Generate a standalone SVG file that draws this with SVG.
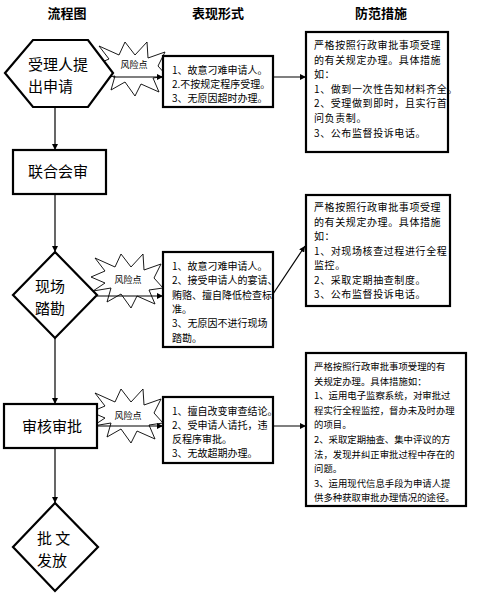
<svg xmlns="http://www.w3.org/2000/svg" width="481" height="597" viewBox="0 0 481 597">
<style>
.hd{font-family:"Noto Sans CJK SC",sans-serif;font-weight:bold;font-size:13px;fill:#000;text-anchor:middle}
.lb{font-family:"Noto Sans CJK SC",sans-serif;font-size:15px;fill:#000}
.sm{font-family:"Noto Sans CJK SC",sans-serif;font-size:10px;fill:#000}
.sm2{font-family:"Noto Sans CJK SC",sans-serif;font-size:9.4px;fill:#000}
.rk{font-family:"Noto Sans CJK SC",sans-serif;font-size:9px;fill:#000;text-anchor:middle}
.sh{fill:#fff;stroke:#000;stroke-width:2.2}
.bx{fill:#fff;stroke:#000;stroke-width:2.2}
.bs{fill:#fff;stroke:#000;stroke-width:0.9}
.cn{fill:none;stroke:#000;stroke-width:1.2}
</style>
<defs>
<marker id="ah" viewBox="0 0 10 10" refX="10" refY="5" markerWidth="6" markerHeight="6" markerUnits="userSpaceOnUse" orient="auto">
<path d="M0,0 L10,5 L0,10 z" fill="#000"/>
</marker>
<polygon id="burst" points="-36,-3 -22,-9 -32,-22 -12,-13 -6,-26 4,-13 16,-26 17,-10 34,-16 27,-2 36,8 22,10 28,24 10,16 4,28 -6,14 -20,22 -16,8 -34,11 -22,3"/>
</defs>
<rect width="481" height="597" fill="#fff"/>

<g id="headers">
<text class="hd" x="67" y="18">流程图</text>
<text class="hd" x="218" y="18">表现形式</text>
<text class="hd" x="381" y="18">防范措施</text>
</g>

<g id="risk1"><use href="#burst" class="bs" transform="translate(131,68)"/><text class="rk" x="134" y="68">风险点</text></g>
<g id="risk2"><use href="#burst" class="bs" transform="translate(127,280)"/><text class="rk" x="128" y="283">风险点</text></g>
<g id="risk3"><use href="#burst" class="bs" transform="translate(127,415)"/><text class="rk" x="128" y="419">风险点</text></g>

<g id="connectors">
<line class="cn" x1="113" y1="77" x2="163" y2="77" marker-end="url(#ah)"/>
<line class="cn" x1="273" y1="77" x2="306" y2="77" marker-end="url(#ah)"/>
<line class="cn" x1="55" y1="107" x2="55" y2="150" marker-end="url(#ah)"/>
<line class="cn" x1="55" y1="194" x2="55" y2="252" marker-end="url(#ah)"/>
<line class="cn" x1="97" y1="296" x2="163" y2="296" marker-end="url(#ah)"/>
<line class="cn" x1="273" y1="294" x2="305" y2="246" marker-end="url(#ah)"/>
<line class="cn" x1="55" y1="338" x2="55" y2="404" marker-end="url(#ah)"/>
<line class="cn" x1="97" y1="426" x2="163" y2="426" marker-end="url(#ah)"/>
<line class="cn" x1="273" y1="426" x2="306" y2="426" marker-end="url(#ah)"/>
<line class="cn" x1="55" y1="448" x2="55" y2="503" marker-end="url(#ah)"/>
</g>

<g id="n-apply">
<polygon class="sh" points="5,73 33,40 88,40 113,73 88,107 33,107"/>
<text class="lb"><tspan x="28" y="70">受理人提</tspan><tspan x="28" y="92">出申请</tspan></text>
</g>

<g id="n-joint">
<rect class="bx" x="13" y="150" width="93" height="44"/>
<text class="lb" x="28" y="177">联合会审</text>
</g>

<g id="n-site">
<polygon class="sh" points="55,252 97,295 55,338 13,295"/>
<text class="lb"><tspan x="35" y="292">现场</tspan><tspan x="35" y="314">踏勘</tspan></text>
</g>

<g id="n-approve">
<rect class="bx" x="4" y="404" width="93" height="44"/>
<text class="lb" x="22" y="432">审核审批</text>
</g>

<g id="n-issue">
<polygon class="sh" points="55,503 98,547 55,591 13,547"/>
<text class="lb"><tspan x="37" y="544">批 文</tspan><tspan x="37" y="566">发放</tspan></text>
</g>

<g id="r1">
<rect class="bx" x="163" y="56" width="110" height="51"/>
<text class="sm" x="172"><tspan x="172" y="74">1、故意刁难申请人。</tspan><tspan x="172" y="88">2.不按规定程序受理。</tspan><tspan x="172" y="102">3、无原因超时办理。</tspan></text>
</g>

<g id="m1">
<rect class="bx" x="306" y="32" width="142" height="120"/>
<text class="sm" x="314" style="letter-spacing:0.6px"><tspan x="314" y="49">严格按照行政审批事项受理</tspan><tspan x="314" y="63.6">的有关规定办理。具体措施</tspan><tspan x="314" y="78.2">如：</tspan><tspan x="314" y="92.8">1、做到一次性告知材料齐全。</tspan><tspan x="314" y="107.4">2、受理做到即时，且实行首</tspan><tspan x="314" y="122">问负责制。</tspan><tspan x="314" y="136.6">3、公布监督投诉电话。</tspan></text>
</g>

<g id="r2">
<rect class="bx" x="163" y="252" width="110" height="95"/>
<text class="sm" x="172"><tspan x="172" y="270">1、故意刁难申请人。</tspan><tspan x="172" y="284.3">2、接受申请人的宴请、</tspan><tspan x="172" y="298.6">贿赂、擅自降低检查标</tspan><tspan x="172" y="312.9">准。</tspan><tspan x="172" y="327.2">3、无原因不进行现场</tspan><tspan x="172" y="341.5">踏勘。</tspan></text>
</g>

<g id="m2">
<rect class="bx" x="306" y="195" width="144" height="111"/>
<text class="sm" x="314" style="letter-spacing:0.6px"><tspan x="314" y="211">严格按照行政审批事项受理</tspan><tspan x="314" y="225.5">的有关规定办理。具体措施</tspan><tspan x="314" y="240">如：</tspan><tspan x="314" y="254.5">1、对现场核查过程进行全程</tspan><tspan x="314" y="269">监控。</tspan><tspan x="314" y="283.5">2、采取定期抽查制度。</tspan><tspan x="314" y="298">3、公布监督投诉电话。</tspan></text>
</g>

<g id="r3">
<rect class="bx" x="163" y="397" width="110" height="66"/>
<text class="sm" x="172"><tspan x="172" y="415">1、擅自改变审查结论。</tspan><tspan x="172" y="429">2、受申请人请托，违</tspan><tspan x="172" y="443">反程序审批。</tspan><tspan x="172" y="457">3、无故超期办理。</tspan></text>
</g>

<g id="m3">
<rect class="bx" x="306" y="353" width="160" height="153"/>
<text class="sm2" x="314"><tspan x="314" y="370">严格按照行政审批事项受理的有</tspan><tspan x="314" y="384.6">关规定办理。具体措施如：</tspan><tspan x="314" y="399.2">1、运用电子监察系统，对审批过</tspan><tspan x="314" y="413.8">程实行全程监控，督办未及时办理</tspan><tspan x="314" y="428.4">的项目。</tspan><tspan x="314" y="443">2、采取定期抽查、集中评议的方</tspan><tspan x="314" y="457.6">法，发现并纠正审批过程中存在的</tspan><tspan x="314" y="472.2">问题。</tspan><tspan x="314" y="486.8">3、运用现代信息手段为申请人提</tspan><tspan x="314" y="501.4">供多种获取审批办理情况的途径。</tspan></text>
</g>
</svg>
